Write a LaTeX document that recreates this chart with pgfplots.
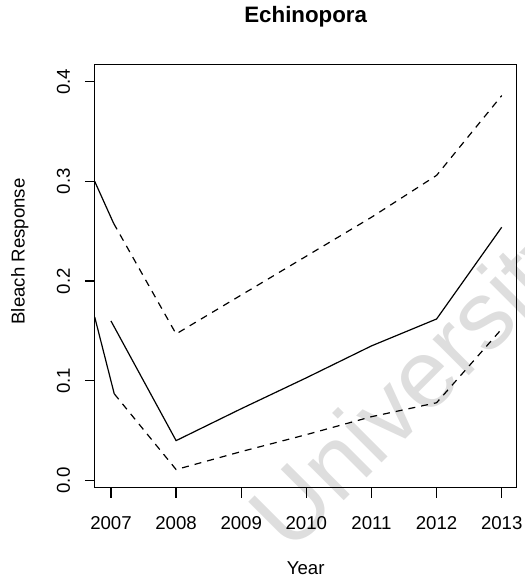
\documentclass[border=0pt]{standalone}
\usepackage{pgfplots}
\pgfplotsset{compat=1.18}
\usepackage{fontspec}
\setmainfont{Liberation Sans}
\begin{document}
\begin{tikzpicture}
\useasboundingbox (0bp,0bp) rectangle (525bp,583bp);
\node[rotate=45, anchor=base west, inner sep=0pt, text=black!13, font=\fontsize{97}{100}\selectfont] at (290bp,28bp) {University};
\begin{axis}[
  at={(94.7bp,95.3bp)}, anchor=south west,
  scale only axis, width=422bp, height=423.4bp,
  xmin=2006.75, xmax=2013.23, ymin=-0.0072, ymax=0.4174,
  axis line style={line width=1.3bp},
  tick pos=left, tick align=outside, major tick length=10bp,
  tick style={line width=1.3bp, black},
  xtick={2007,2008,2009,2010,2011,2012,2013},
  xticklabels={2007,2008,2009,2010,2011,2012,2013},
  ytick={0,0.1,0.2,0.3,0.4},
  yticklabels={0.0,0.1,0.2,0.3,0.4},
  /pgf/number format/assume math mode=true,
  tick label style={font=\fontsize{18.7}{22}\selectfont},
  xticklabel style={anchor=north, inner sep=0pt, yshift=-18.6bp},
  yticklabel style={xshift=-15bp, anchor=base, rotate=90, inner sep=0pt},
  title={Echinopora},
  title style={at={(axis description cs:0.5,1.085)}, anchor=base, inner sep=0pt, font=\fontsize{22.4}{26}\selectfont\bfseries},
  xlabel={Year},
  xlabel style={at={(axis description cs:0.5,-0.1738)}, anchor=north, inner sep=0pt, font=\fontsize{18.7}{22}\selectfont},
  ylabel={Bleach Response},
  ylabel style={at={(axis description cs:-0.1659,0.558)}, anchor=base, inner sep=0pt, font=\fontsize{18.7}{22}\selectfont},
  every axis plot/.append style={black, line width=1.2bp},
]
% upper band
\addplot[solid] coordinates {(2006.75,0.300) (2007.04,0.258)};
\addplot[dash pattern=on 7bp off 6bp] coordinates {(2007.04,0.258) (2008,0.147) (2009,0.186) (2010,0.225) (2011,0.264) (2012,0.306) (2013,0.386)};
% estimate
\addplot[solid] coordinates {(2007,0.160) (2008,0.040) (2009,0.072) (2010,0.103) (2011,0.135) (2012,0.162) (2013,0.254)};
% lower band
\addplot[solid] coordinates {(2006.75,0.164) (2007.05,0.087)};
\addplot[dash pattern=on 7bp off 6bp] coordinates {(2007.05,0.087) (2008,0.011) (2009,0.029) (2010,0.046) (2011,0.064) (2012,0.078) (2013,0.152)};
\end{axis}
\end{tikzpicture}
\end{document}
